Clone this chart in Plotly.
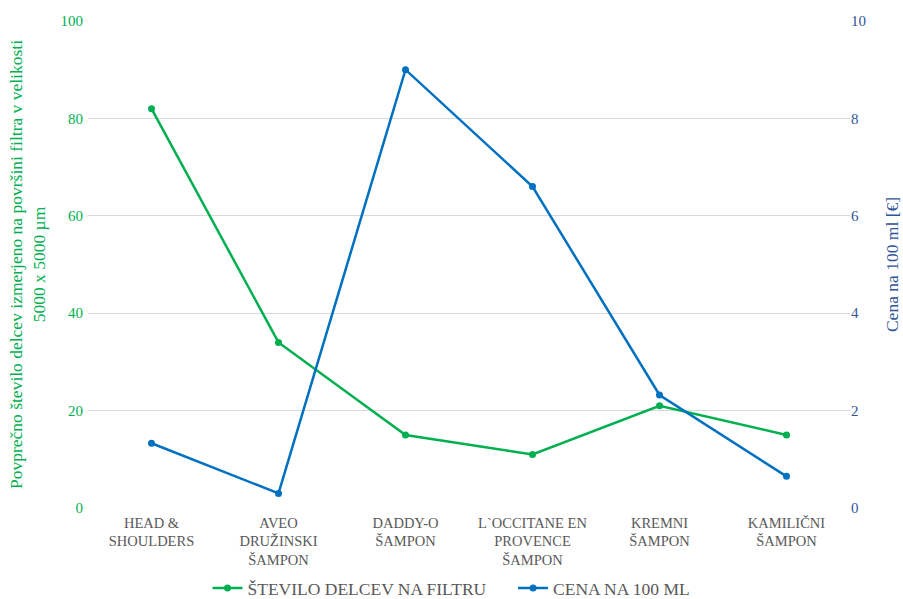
import plotly.graph_objects as go

categories = ["HEAD &<br>SHOULDERS", "AVEO<br>DRUŽINSKI<br>ŠAMPON", "DADDY-O<br>ŠAMPON",
              "L`OCCITANE EN<br>PROVENCE<br>ŠAMPON", "KREMNI<br>ŠAMPON", "KAMILIČNI<br>ŠAMPON"]
delci = [82, 34, 15, 11, 21, 15]
cena = [1.33, 0.3, 9.0, 6.6, 2.32, 0.65]
series_names = ["ŠTEVILO DELCEV NA FILTRU", "CENA NA 100 ML"]

GREEN = "#00B050"
BLUE = "#0070C0"
FONT = "Liberation Serif"
PAD = "\u00a0" * 5

fig = go.Figure()
fig.add_trace(go.Scatter(x=categories, y=delci, name=series_names[0] + PAD,
                         mode="lines+markers", line=dict(color=GREEN, width=2.5),
                         marker=dict(size=7, color=GREEN)))
fig.add_trace(go.Scatter(x=categories, y=cena, name=series_names[1], yaxis="y2",
                         mode="lines+markers", line=dict(color=BLUE, width=2.5),
                         marker=dict(size=7, color=BLUE)))

fig.update_layout(
    width=903, height=599,
    margin=dict(l=88, r=53, t=21, b=91),
    paper_bgcolor="white", plot_bgcolor="white",
    font=dict(family=FONT, size=14, color="#595959"),
    xaxis=dict(type="category", range=[-0.5, 5.5], showgrid=False, showline=False, zeroline=False,
               tickfont=dict(family=FONT, size=14.5, color="#595959"), ticks="", automargin=False,
               ticklabelstandoff=4),
    yaxis=dict(range=[0, 100], dtick=20, showgrid=True, gridcolor="#D9D9D9", gridwidth=1,
               zeroline=False, showline=False, automargin=False, ticklabelstandoff=4,
               tickfont=dict(family=FONT, size=15, color=GREEN),
               title=dict(text="Povprečno število delcev izmerjeno na površini filtra v velikosti<br>5000 x 5000 µm",
                          font=dict(family=FONT, size=17.5, color=GREEN), standoff=10)),
    yaxis2=dict(range=[0, 10], dtick=2, overlaying="y", side="right", showgrid=False,
                zeroline=False, showline=False, automargin=False,
                tickfont=dict(family=FONT, size=15, color="#2F5597"),
                title=dict(text="Cena na 100 ml [€]", font=dict(family=FONT, size=17.5, color="#2F5597"),
                           standoff=20)),
    legend=dict(orientation="h", x=0.5, xanchor="center", xref="container",
                y=0.018, yanchor="middle", yref="container", itemwidth=30,
                font=dict(family=FONT, size=17.5, color="#595959")),
)

fig.write_html("out.html")
